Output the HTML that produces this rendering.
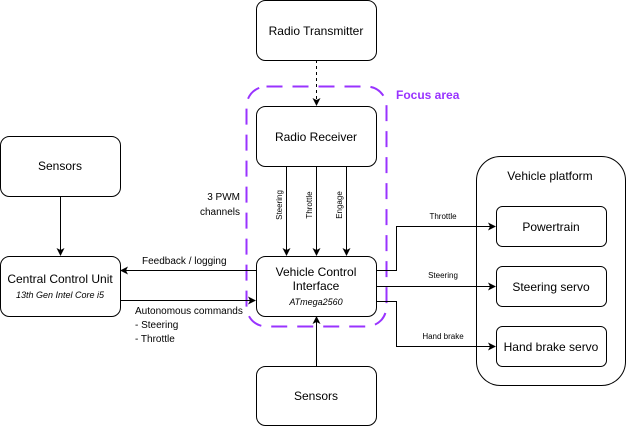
<!DOCTYPE html>
<html><head><style>body{margin:0;background:#fff}svg{display:block}text{font-family:"Liberation Sans",sans-serif;fill:#000}</style></head><body>
<svg width="626" height="426" viewBox="0 0 626 426" xmlns="http://www.w3.org/2000/svg">
<defs><marker id="a" markerWidth="10" markerHeight="10" refX="8" refY="5" orient="auto" markerUnits="userSpaceOnUse"><path d="M1,1 L9,5 L1,9 L3,5 Z" fill="#000"/></marker></defs>
<g fill="#fff" stroke="#000" stroke-width="1">
<rect x="256.5" y="0.5" width="120" height="60" rx="9"/>
<rect x="256.5" y="106.5" width="120" height="60" rx="9"/>
<rect x="256.5" y="256.5" width="120" height="60" rx="9"/>
<rect x="256.5" y="366.5" width="120" height="59" rx="9"/>
<rect x="0.5" y="136.5" width="120" height="60" rx="9"/>
<rect x="0.5" y="256.5" width="120" height="60" rx="9"/>
<rect x="476.5" y="156.5" width="149" height="229" rx="24"/>
<rect x="496.5" y="206.5" width="110" height="40" rx="6"/>
<rect x="496.5" y="266.5" width="110" height="40" rx="6"/>
<rect x="496.5" y="326.5" width="110" height="40" rx="6"/>
</g>
<rect x="246.5" y="86.5" width="140" height="240" rx="20" fill="none" stroke="#9933ff" stroke-width="2" stroke-dasharray="16,10"/>
<g stroke="#000" fill="none" marker-end="url(#a)">
<path d="M316.5 60 V105" stroke-dasharray="3,3"/>
<path d="M286.5 166 V255"/><path d="M316.5 166 V255"/><path d="M346.5 166 V255"/>
<path d="M60.5 196 V255"/>
<path d="M256 270.5 H121"/><path d="M120 300.5 H255"/>
<path d="M316.5 366 V317"/>
<path d="M376 270.5 H396.5 V226.5 H495"/>
<path d="M376 286.5 H495"/>
<path d="M376 301.5 H396.5 V346.5 H495"/>
</g>
<g font-size="12" text-anchor="middle">
<text x="316" y="35">Radio Transmitter</text>
<text x="316" y="141">Radio Receiver</text>
<text x="316" y="276">Vehicle Control</text>
<text x="316" y="290">Interface</text>
<text x="316" y="305" font-size="9" font-style="italic">ATmega2560</text>
<text x="316" y="400">Sensors</text>
<text x="60" y="170">Sensors</text>
<text x="60" y="283">Central Control Unit</text>
<text x="60" y="298" font-size="9" font-style="italic">13th Gen Intel Core i5</text>
<text x="550" y="180">Vehicle platform</text>
<text x="551" y="231">Powertrain</text>
<text x="551" y="291">Steering servo</text>
<text x="551" y="351">Hand brake servo</text>
</g>
<text x="396" y="99" font-size="12" font-weight="bold" style="fill:#9933ff">Focus area</text>
<g font-size="10">
<text x="240" y="200" text-anchor="end">3 PWM</text>
<text x="240" y="215" text-anchor="end">channels</text>
<text x="142" y="264">Feedback / logging</text>
<text x="135" y="314">Autonomous commands</text>
<text x="135" y="328">- Steering</text>
<text x="135" y="342">- Throttle</text>
</g>
<g font-size="8" text-anchor="middle">
<text transform="translate(282,205) rotate(-90)">Steering</text>
<text transform="translate(312,205) rotate(-90)">Throttle</text>
<text transform="translate(342,205) rotate(-90)">Engage</text>
<text x="443" y="219">Throttle</text>
<text x="443" y="278">Steering</text>
<text x="443" y="339">Hand brake</text>
</g>
</svg>
</body></html>
